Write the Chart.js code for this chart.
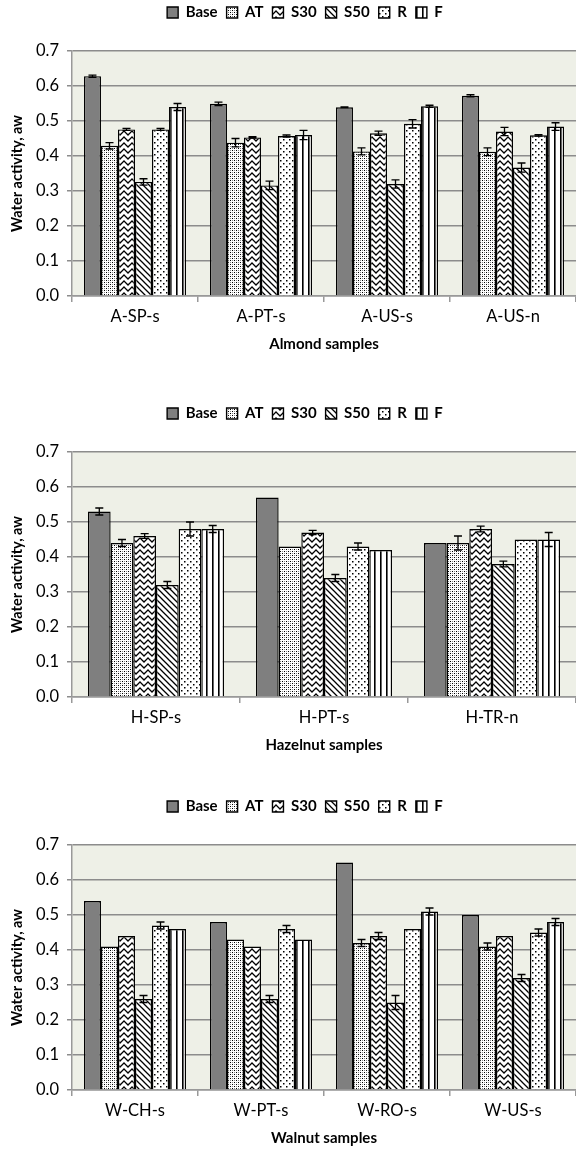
<!DOCTYPE html>
<html>
<head>
<meta charset="utf-8">
<script src="https://cdn.jsdelivr.net/npm/chart.js@4"></script>
<style>
  body { margin: 0; background: #fff; overflow: hidden; }
  .box { position: absolute; left: 0; width: 576px; height: 365px; }
</style>
</head>
<body>
<div class="box" style="top:-6px"><canvas id="almond"></canvas></div>
<div class="box" style="top:395px"><canvas id="hazel"></canvas></div>
<div class="box" style="top:788px"><canvas id="walnut"></canvas></div>
<script>
const seriesNames = ["Base", "AT", "S30", "S50", "R", "F"];
const yTicks = [0, 0.1, 0.2, 0.3, 0.4, 0.5, 0.6, 0.7];

// almond
const almondLabels = ["A-SP-s", "A-PT-s", "A-US-s", "A-US-n"];
const almondBase = [0.628, 0.549, 0.539, 0.572];
const almondAT   = [0.429, 0.438, 0.413, 0.412];
const almondS30  = [0.476, 0.453, 0.465, 0.470];
const almondS50  = [0.326, 0.316, 0.320, 0.367];
const almondR    = [0.476, 0.457, 0.492, 0.459];
const almondF    = [0.540, 0.460, 0.542, 0.484];
const almondErr = [
  [0.003, 0.005, 0.001, 0.003],
  [0.009, 0.012, 0.010, 0.011],
  [0.003, 0.002, 0.006, 0.012],
  [0.009, 0.012, 0.012, 0.013],
  [0.003, 0.003, 0.012, 0.002],
  [0.010, 0.013, 0.003, 0.011]
];

// hazelnut
const hazelLabels = ["H-SP-s", "H-PT-s", "H-TR-n"];
const hazelBase = [0.53, 0.57, 0.44];
const hazelAT   = [0.44, 0.43, 0.44];
const hazelS30  = [0.46, 0.47, 0.48];
const hazelS50  = [0.32, 0.34, 0.38];
const hazelR    = [0.48, 0.43, 0.45];
const hazelF    = [0.48, 0.42, 0.45];
const hazelErr = [
  [0.01, 0, 0],
  [0.01, 0, 0.02],
  [0.007, 0.006, 0.008],
  [0.01, 0.01, 0.008],
  [0.02, 0.01, 0],
  [0.01, 0, 0.02]
];

// walnut
const walnutLabels = ["W-CH-s", "W-PT-s", "W-RO-s", "W-US-s"];
const walnutBase = [0.54, 0.48, 0.65, 0.50];
const walnutAT   = [0.41, 0.43, 0.42, 0.41];
const walnutS30  = [0.44, 0.41, 0.44, 0.44];
const walnutS50  = [0.26, 0.26, 0.25, 0.32];
const walnutR    = [0.47, 0.46, 0.46, 0.45];
const walnutF    = [0.46, 0.43, 0.51, 0.48];
const walnutErr = [
  [0, 0, 0, 0],
  [0, 0, 0.01, 0.01],
  [0, 0, 0.01, 0],
  [0.01, 0.01, 0.02, 0.01],
  [0.01, 0.01, 0, 0.01],
  [0, 0, 0.01, 0.01]
];

function makePattern(w, h, draw) {
  const c = document.createElement("canvas");
  c.width = w; c.height = h;
  const g = c.getContext("2d");
  g.fillStyle = "#fff";
  g.fillRect(0, 0, w, h);
  g.fillStyle = "#000";
  g.strokeStyle = "#000";
  draw(g);
  return g.createPattern(c, "repeat");
}

const fills = [
  "#7f7f7f",
  // fine dots
  makePattern(4, 4, g => { g.fillRect(0, 0, 1, 1); g.fillRect(2, 2, 1, 1); g.fillStyle = "#888"; g.fillRect(2, 0, 1, 1); g.fillRect(0, 2, 1, 1); }),
  // zigzag
  makePattern(8, 6, g => {
    g.lineWidth = 1.3;
    g.beginPath();
    g.moveTo(-1, 4); g.lineTo(4, -1); g.lineTo(9, 4);
    g.moveTo(-1, 10); g.lineTo(4, 5); g.lineTo(9, 10);
    g.stroke();
  }),
  // wide downward diagonal
  makePattern(6, 6, g => {
    g.lineWidth = 1.3;
    g.beginPath();
    g.moveTo(-1, -1); g.lineTo(7, 7);
    g.moveTo(-7, -1); g.lineTo(1, 7);
    g.moveTo(5, -1); g.lineTo(13, 7);
    g.stroke();
  }),
  // sparse dots
  makePattern(6, 6, g => { g.fillRect(1, 1, 1.5, 1.5); g.fillRect(4, 4, 1.5, 1.5); }),
  // vertical stripes
  makePattern(6, 6, g => { g.fillRect(2, 0, 1.6, 6); })
];

const errorBars = {
  id: "errorBars",
  afterDatasetsDraw(chart, args, opts) {
    const ctx = chart.ctx;
    const ys = chart.scales.y;
    ctx.save();
    ctx.strokeStyle = "#000";
    ctx.lineWidth = 1.3;
    chart.data.datasets.forEach((ds, di) => {
      const meta = chart.getDatasetMeta(di);
      meta.data.forEach((bar, i) => {
        const e = opts.errs[di][i];
        if (!e) return;
        const v = ds.data[i];
        const top = ys.getPixelForValue(v + e);
        const bot = ys.getPixelForValue(v - e);
        ctx.beginPath();
        ctx.moveTo(bar.x, top); ctx.lineTo(bar.x, bot);
        ctx.moveTo(bar.x - 4, top); ctx.lineTo(bar.x + 4, top);
        ctx.moveTo(bar.x - 4, bot); ctx.lineTo(bar.x + 4, bot);
        ctx.stroke();
      });
    });
    ctx.restore();
  }
};

const plotBg = {
  id: "plotBg",
  beforeDraw(chart) {
    const a = chart.chartArea;
    const ctx = chart.ctx;
    ctx.save();
    ctx.fillStyle = "#eef0e7";
    ctx.fillRect(a.left, a.top, a.right - a.left, a.bottom - a.top);
    ctx.restore();
  }
};

// fixed legend block height so the plot starts where it should,
// then nudge the legend a bit right/down like the original
const legendHeight = {
  id: "legendHeight",
  beforeLayout(chart) {
    const lg = chart.legend;
    if (lg && !lg._fixed) {
      const fit = lg.fit;
      lg.fit = function () { fit.call(this); this.height = 57; };
      lg._fixed = true;
    }
  },
  afterLayout(chart) {
    const lg = chart.legend;
    lg.left += 17; lg.right += 17;
    lg.top += 2;
  }
};

Chart.defaults.font.family = "Lato, sans-serif";
Chart.defaults.color = "#000";

function build(id, labels, values, errs, xTitle) {
  new Chart(document.getElementById(id), {
    type: "bar",
    data: {
      labels: labels,
      datasets: seriesNames.map((n, i) => ({
        label: n,
        data: values[i],
        backgroundColor: fills[i],
        borderColor: "#000",
        borderWidth: 1.4,
        categoryPercentage: 0.81,
        barPercentage: 1
      }))
    },
    options: {
      responsive: true,
      maintainAspectRatio: false,
      animation: false,
      layout: { padding: 0 },
      plugins: {
        legend: {
          position: "top",
          labels: {
            boxWidth: 11, boxHeight: 11, padding: 9,
            font: { size: 15, weight: "bold" }
          }
        },
        tooltip: { enabled: false },
        errorBars: { errs: errs }
      },
      scales: {
        x: {
          afterFit: s => { s.height = 63; },
          grid: { display: true, drawOnChartArea: false, tickLength: 6, color: "#999", lineWidth: 1.5, offset: true },
          border: { color: "#999", width: 1.5 },
          ticks: { font: { size: 16.5 }, padding: 5 },
          title: { display: true, text: xTitle, font: { size: 15, weight: "bold" }, padding: { top: 0, bottom: 6 } }
        },
        y: {
          min: 0, max: 0.7,
          afterFit: s => { s.width = 72; },
          afterBuildTicks: s => { s.ticks = yTicks.map(v => ({ value: v })); },
          grid: { color: "#8c8c8c", lineWidth: 1.5, tickLength: 5 },
          border: { color: "#999", width: 1.5 },
          ticks: { font: { size: 16.5 }, callback: v => v.toFixed(1), padding: 8 },
          title: { display: true, text: "Water activity, aw", font: { size: 14.5, weight: "bold" }, padding: { top: 9, bottom: 0 } }
        }
      }
    },
    plugins: [legendHeight, plotBg, errorBars]
  });
}

build("almond", almondLabels, [almondBase, almondAT, almondS30, almondS50, almondR, almondF], almondErr, "Almond samples");
build("hazel", hazelLabels, [hazelBase, hazelAT, hazelS30, hazelS50, hazelR, hazelF], hazelErr, "Hazelnut samples");
build("walnut", walnutLabels, [walnutBase, walnutAT, walnutS30, walnutS50, walnutR, walnutF], walnutErr, "Walnut samples");
</script>
</body>
</html>
